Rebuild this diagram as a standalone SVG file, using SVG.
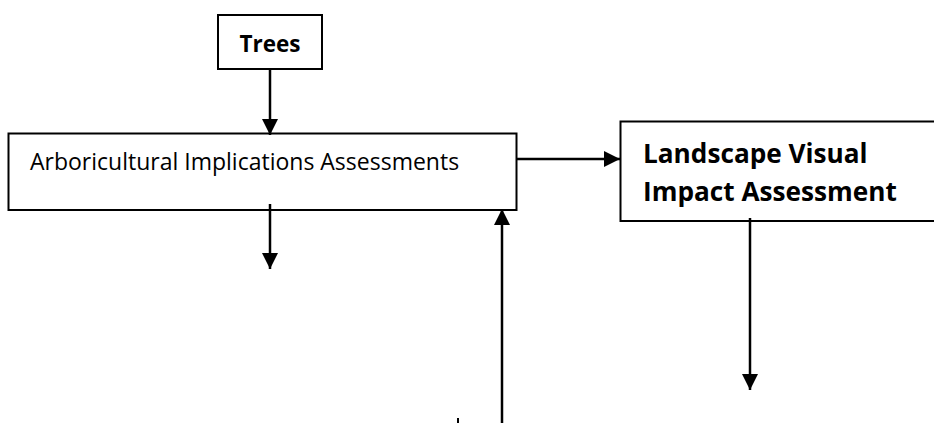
<svg xmlns="http://www.w3.org/2000/svg" width="934" height="423" viewBox="0 0 934 423">
<style>
.box{fill:#fff;stroke:#000;stroke-width:2}
.t{font-family:"Open Sans","Liberation Sans",sans-serif;fill:#000}
.b{font-weight:bold}
.c{stroke:#000;stroke-width:2.5;fill:none;marker-end:url(#ah)}
</style>
<defs>
<marker id="ah" markerUnits="userSpaceOnUse" markerWidth="16" markerHeight="16" refX="16" refY="8" orient="auto" viewBox="0 0 16 16">
<path d="M0,0 L16,8 L0,16 z" fill="#000"/>
</marker>
</defs>
<rect width="934" height="423" fill="#fff"/>
<g id="trees">
<rect class="box" x="218" y="15" width="104" height="54"/>
<text class="t b" x="270" y="52" font-size="22.5" text-anchor="middle">Trees</text>
</g>
<g id="arboricultural">
<rect class="box" x="8.5" y="133.5" width="508" height="76.5"/>
<text class="t" x="30" y="169.5" font-size="23">Arboricultural Implications Assessments</text>
</g>
<g id="landscape">
<rect class="box" x="620.5" y="121.5" width="320" height="99.5"/>
<text class="t b" x="643" y="163" font-size="26.2">Landscape Visual</text>
<text class="t b" x="643" y="200.5" font-size="26.2">Impact Assessment</text>
</g>
<g id="connectors">
<line class="c" x1="270" y1="69" x2="270" y2="135"/>
<line class="c" x1="270" y1="204" x2="270" y2="269"/>
<line class="c" x1="517" y1="159" x2="620" y2="159"/>
<line class="c" x1="502" y1="423" x2="502" y2="209"/>
<line class="c" x1="750" y1="218" x2="750" y2="390"/>
<line stroke="#000" stroke-width="2" x1="458" y1="418" x2="458" y2="423"/>
</g>
</svg>
